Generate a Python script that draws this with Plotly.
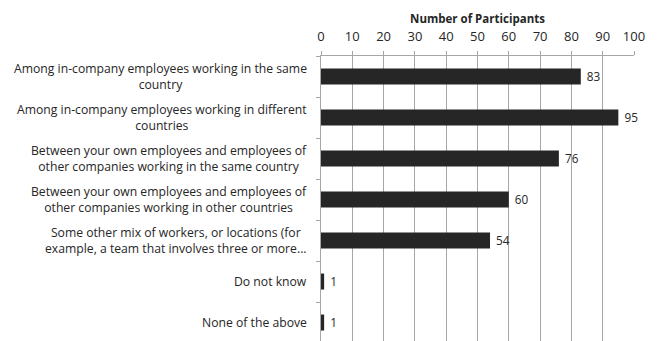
import plotly.graph_objects as go

categories = [
    "Among in-company employees working in the same<br>country",
    "Among in-company employees working in different<br>countries",
    "Between your own employees and employees of<br>other companies working in the same country",
    "Between your own employees and employees of<br>other companies working in other countries",
    "Some other mix of workers, or locations (for<br>example, a team that involves three or more...",
    "Do not know",
    "None of the above",
]
participants = [83, 95, 76, 60, 54, 1, 1]
x_ticks = list(range(0, 101, 10))

font_family = "Open Sans"
text_color = "#262626"
axis_gray = "#a6a6a6"

fig = go.Figure(
    go.Bar(
        x=participants,
        y=categories,
        orientation="h",
        marker=dict(color="#262626", line=dict(width=0)),
        width=0.39,
        text=[" " + str(v) for v in participants],
        textposition="outside",
        textfont=dict(family=font_family, size=12.5, color=text_color),
        cliponaxis=False,
    )
)

# Category labels: right-anchored blocks whose lines are centred on each other
for cat in categories:
    fig.add_annotation(
        x=0,
        y=cat,
        xref="x",
        yref="y",
        text=cat,
        showarrow=False,
        xanchor="right",
        yanchor="middle",
        align="center",
        xshift=-12,
        font=dict(family=font_family, size=12.2, color=text_color),
    )

fig.update_layout(
    width=657,
    height=341,
    margin=dict(l=321, r=23, t=56, b=0),
    paper_bgcolor="white",
    plot_bgcolor="white",
    showlegend=False,
    font=dict(family=font_family, size=12, color=text_color),
    xaxis=dict(
        side="top",
        range=[0, 100],
        tickvals=x_ticks,
        ticktext=[str(v) for v in x_ticks],
        showgrid=True,
        gridcolor=axis_gray,
        gridwidth=1,
        showline=True,
        linecolor=axis_gray,
        ticks="outside",
        ticklen=4,
        tickcolor=axis_gray,
        ticklabelstandoff=5,
        tickfont=dict(size=13, color=text_color),
        title=dict(
            text="<b>Number of Participants</b>",
            font=dict(size=11.5, color=text_color),
            standoff=0,
        ),
        zeroline=False,
        fixedrange=True,
    ),
    yaxis=dict(
        type="category",
        categoryorder="array",
        categoryarray=categories,
        range=[6.45, -0.5],
        showgrid=False,
        showline=True,
        linecolor=axis_gray,
        ticks="outside",
        tickson="boundaries",
        ticklen=4,
        tickcolor=axis_gray,
        showticklabels=False,
        zeroline=False,
        fixedrange=True,
    ),
    bargap=0.6,
)

fig.write_html("out.html")
